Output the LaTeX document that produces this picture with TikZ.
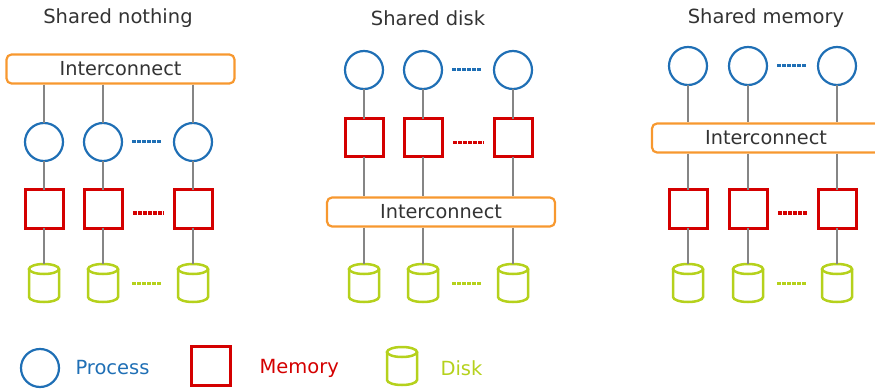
\documentclass[tikz,border=0pt]{standalone}
\usepackage{fontspec}
\setmainfont{DejaVu Sans}
\definecolor{procblue}{HTML}{1F6FB5}
\definecolor{memred}{HTML}{D40000}
\definecolor{diskgreen}{HTML}{B5D11C}
\definecolor{icorange}{HTML}{F7982F}
\definecolor{linegray}{HTML}{858585}
\definecolor{txtgray}{HTML}{333333}
\tikzset{
  proc/.style={circle,draw=procblue,line width=2.2pt,minimum size=38pt,inner sep=0pt,outer sep=0pt},
  mem/.style={rectangle,draw=memred,line width=3pt,minimum size=38pt,inner sep=0pt,outer sep=0pt},
  diskn/.style={rectangle,draw=none,minimum width=30pt,minimum height=38pt,inner sep=0pt,outer sep=0pt},
  diskline/.style={draw=diskgreen,line width=2.5pt},
  icbox/.style={rectangle,rounded corners=5pt,draw=icorange,line width=2.2pt,minimum width=228pt,minimum height=29pt,inner sep=0pt,text=txtgray,font=\fontsize{19.3}{22}\selectfont},
  title/.style={text=txtgray,font=\fontsize{19.5}{22}\selectfont},
  wire/.style={draw=linegray,line width=2.8pt},
  bdots/.style={draw=procblue,line width=3pt,dash pattern=on 3.5pt off 1.5pt},
  rdots/.style={draw=memred,line width=3pt,dash pattern=on 3.5pt off 1.5pt},
  gdots/.style={draw=diskgreen,line width=3pt,dash pattern=on 3.5pt off 1.5pt},
  legtext/.style={anchor=west,font=\fontsize{19.5}{22}\selectfont},
}
\newcommand\mydisk[3]{%
  \node[diskn] (#1) at (#2,#3) {};
  \draw[diskline] ([yshift=-5pt]#1.north west) -- ([yshift=5pt]#1.south west)
     arc[start angle=180,end angle=360,x radius=15pt,y radius=5pt]
     -- ([yshift=-5pt]#1.north east);
  \draw[diskline] ([yshift=-5pt]#1.north) ellipse[x radius=15pt,y radius=5pt];
}
\begin{document}
\begin{tikzpicture}[x=1pt,y=-1pt]
\useasboundingbox (0,0) rectangle (875,390);

% ---------- Shared nothing ----------
\node[title] (t1) at (118,18) {Shared nothing};
\node[icbox] (ic1) at (120.5,69) {Interconnect};
\foreach \i/\x in {1/44,2/103,3/193}{
  \node[proc] (na\i) at (\x,142) {};
  \node[mem] (nm\i) at (\x,209) {};
  \mydisk{nd\i}{\x}{283}
  \draw[wire] (na\i.north |- ic1.south) -- (na\i.north);
  \draw[wire] (na\i.south) -- (nm\i.north);
  \draw[wire] (nm\i.south) -- (nd\i.north);
}
\draw[bdots] ([xshift=10pt]na2.east) -- ([xshift=-12pt]na3.west);
\draw[rdots] ([xshift=11pt,yshift=-4pt]nm2.east) -- ([xshift=-10pt,yshift=-4pt]nm3.west);
\draw[gdots] ([xshift=14pt]nd2.east) -- ([xshift=-16pt]nd3.west);

% ---------- Shared disk ----------
\node[title] (t2) at (428,18) {Shared disk};
\node[icbox] (ic2) at (441,212) {Interconnect};
\foreach \i/\x in {1/364,2/423,3/513}{
  \node[proc] (sa\i) at (\x,70) {};
  \node[mem] (sm\i) at (\x,138) {};
  \mydisk{sd\i}{\x}{283}
  \draw[wire] (sa\i.south) -- (sm\i.north);
  \draw[wire] (sm\i.south) -- (sm\i.south |- ic2.north);
  \draw[wire] (sd\i.north |- ic2.south) -- (sd\i.north);
}
\draw[bdots] ([xshift=10pt]sa2.east) -- ([xshift=-12pt]sa3.west);
\draw[rdots] ([xshift=11pt,yshift=-5pt]sm2.east) -- ([xshift=-10pt,yshift=-5pt]sm3.west);
\draw[gdots] ([xshift=14pt]sd2.east) -- ([xshift=-16pt]sd3.west);

% ---------- Shared memory ----------
\node[title] (t3) at (766,18) {Shared memory};
\node[icbox] (ic3) at (766,138) {Interconnect};
\foreach \i/\x in {1/688,2/748,3/837}{
  \node[proc] (ma\i) at (\x,66) {};
  \node[mem] (mm\i) at (\x,209) {};
  \mydisk{md\i}{\x}{283}
  \draw[wire] (ma\i.south) -- (ma\i.south |- ic3.north);
  \draw[wire] (mm\i.north |- ic3.south) -- (mm\i.north);
  \draw[wire] (mm\i.south) -- (md\i.north);
}
\draw[bdots] ([xshift=10pt]ma2.east) -- ([xshift=-12pt]ma3.west);
\draw[rdots] ([xshift=11pt,yshift=-4pt]mm2.east) -- ([xshift=-10pt,yshift=-4pt]mm3.west);
\draw[gdots] ([xshift=14pt]md2.east) -- ([xshift=-16pt]md3.west);

% ---------- Legend ----------
\node[proc] (lp) at (40,368) {};
\node[legtext,text=procblue] (lpt) at (72,368) {Process};
\node[mem,minimum size=39pt] (lm) at (211,366) {};
\node[legtext,text=memred] (lmt) at (256,368) {Memory};
\mydisk{ld}{402}{366}
\node[legtext,text=diskgreen] (ldt) at (437,368) {Disk};
\end{tikzpicture}
\end{document}
